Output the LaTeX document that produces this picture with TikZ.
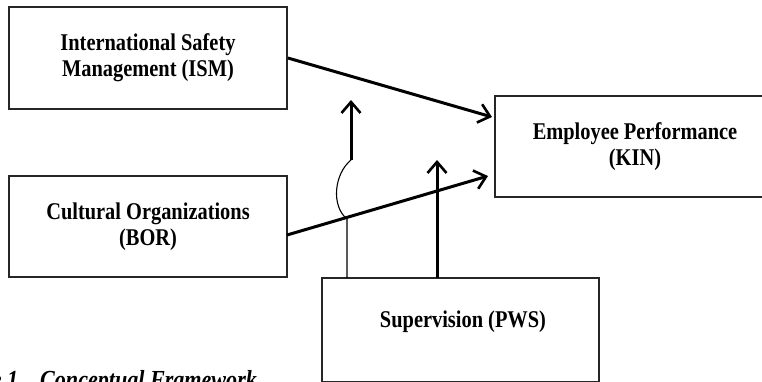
\documentclass[tikz,border=0pt]{standalone}
\usepackage{fontspec}
\setmainfont[FakeStretch=0.85]{Liberation Serif}
\usetikzlibrary{arrows.meta}
\begin{document}
\begin{tikzpicture}[x=1pt,y=-1pt,
  box/.style={draw=black!85, line width=1.8pt, rectangle, inner sep=0pt},
  lbl/.style={font=\fontsize{24}{26}\selectfont\bfseries, align=center, text=black},
  arr/.style={line width=3pt, -{Straight Barb[length=11pt,width=19pt,line width=2.6pt]}},
  thinline/.style={line width=1.1pt, draw=black},
  captxt/.style={font=\fontsize{26}{28}\selectfont\bfseries\itshape, inner sep=0pt}]
\useasboundingbox (0,0) rectangle (762,381);
\clip (0,0) rectangle (762,381);
% boxes
\node[box, minimum width=278pt, minimum height=102pt, lbl] (ism) at (148,58) {International Safety\\Management (ISM)};
\node[box, minimum width=278pt, minimum height=101pt, lbl] (bor) at (148,226.5) {Cultural Organizations\\(BOR)};
\node[box, minimum width=280pt, minimum height=101pt, lbl] (kin) at (635,146.5) {Employee Performance\\(KIN)};
\node[box, minimum width=277pt, minimum height=104pt] (pws) at (460.5,330) {};
\node[lbl] (pwslbl) at (463,322) {Supervision (PWS)};
% coordinates
\coordinate (t1) at (492,117);
\coordinate (t2) at (488,176);
\coordinate (s2) at (287,235);
\coordinate (bt) at (437,160);
\coordinate (bs) at (437,278);
\coordinate (a0) at (347,278);
\coordinate (a1) at (347,219);
\coordinate (a2) at (351,160);
\coordinate (a3) at (351,100);
% connectors
\draw[arr] (ism.east) -- (t1);
\draw[arr] (s2) -- (t2);
\draw[arr] (bs) -- (bt);
\draw[thinline] (a0) -- (a1) .. controls (331,206) and (334,174) .. (a2);
\draw[arr] (a2) -- (a3);
% caption
\node[captxt, anchor=base west] (cap) at (40,388) {Conceptual Framework};
\node[captxt, anchor=base east] (fig) at (24,388) {Figure 1.};
\end{tikzpicture}
\end{document}
